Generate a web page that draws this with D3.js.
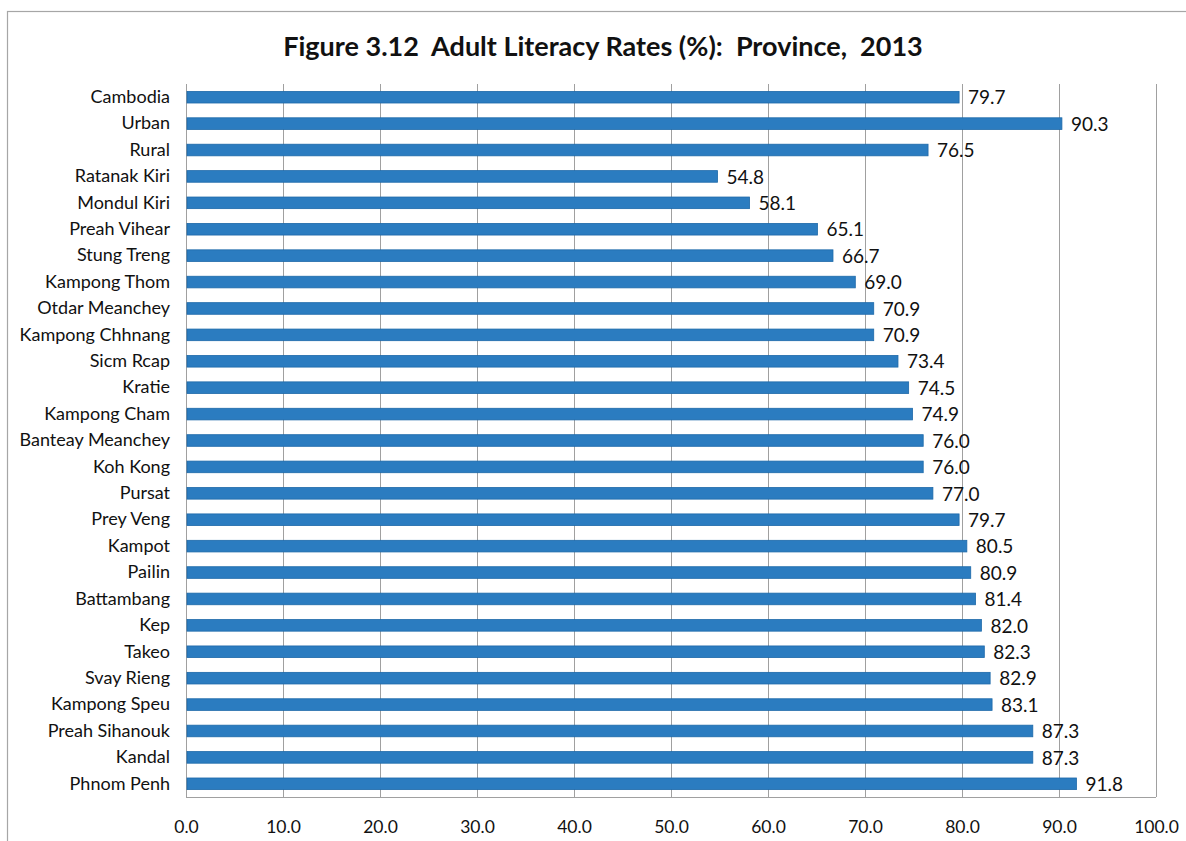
<!DOCTYPE html>
<html><head><meta charset="utf-8">
<script src="https://cdn.jsdelivr.net/npm/d3@7"></script>
<style>body{margin:0;background:#fff;} svg{display:block;}</style>
</head><body>
<svg id="chart" width="1186" height="841"></svg>
<script>
const categories = ["Cambodia","Urban","Rural","Ratanak Kiri","Mondul Kiri","Preah Vihear","Stung Treng","Kampong Thom","Otdar Meanchey","Kampong Chhnang","Sicm Rcap","Kratie","Kampong Cham","Banteay Meanchey","Koh Kong","Pursat","Prey Veng","Kampot","Pailin","Battambang","Kep","Takeo","Svay Rieng","Kampong Speu","Preah Sihanouk","Kandal","Phnom Penh"];
const values = [79.7,90.3,76.5,54.8,58.1,65.1,66.7,69.0,70.9,70.9,73.4,74.5,74.9,76.0,76.0,77.0,79.7,80.5,80.9,81.4,82.0,82.3,82.9,83.1,87.3,87.3,91.8];
const xTicks = [0,10,20,30,40,50,60,70,80,90,100];
const titleText = "Figure 3.12  Adult Literacy Rates (%):  Province,  2013";

const svg = d3.select("#chart");
const font = "Lato, 'Open Sans', sans-serif";
const mLeft = 186, mRight = 1156, mTop = 84, mBottom = 797;

svg.append("rect").attr("x",7.5).attr("y",11.5).attr("width",1200).attr("height",900)
  .attr("fill","none").attr("stroke","#a6a6a6").attr("stroke-width",1.2);

svg.append("text").attr("x",603).attr("y",56).attr("text-anchor","middle")
  .attr("font-family",font).attr("font-weight","bold").attr("font-size",27)
  .attr("fill","#111").style("white-space","pre").text(titleText);

const x = d3.scaleLinear().domain([0,100]).range([mLeft,mRight]);
const y = d3.scaleBand().domain(categories).range([mTop,mBottom]).paddingInner(0.56).paddingOuter(0.28);

// grid
svg.append("g").selectAll("line").data(xTicks).join("line")
  .attr("x1",d=>x(d)+0.5).attr("x2",d=>x(d)+0.5).attr("y1",mTop).attr("y2",mBottom)
  .attr("stroke","#a0a0a0").attr("stroke-width",1);
svg.append("line").attr("x1",mLeft).attr("x2",mRight).attr("y1",mBottom+0.5).attr("y2",mBottom+0.5)
  .attr("stroke","#a0a0a0");

// x axis
const xAxis = d3.axisBottom(x).tickValues(xTicks).tickFormat(d3.format(".1f")).tickSize(0).tickPadding(0);
const gx = svg.append("g").attr("transform",`translate(0,${mBottom})`).call(xAxis);
gx.select(".domain").remove();
gx.selectAll("text").attr("font-family",font).attr("font-size",17.5).attr("fill","#111").attr("dy",0).attr("y",36);

// y axis labels
const yAxis = d3.axisLeft(y).tickSize(0).tickPadding(0);
const gy = svg.append("g").attr("transform",`translate(${mLeft-16},0)`).call(yAxis);
gy.select(".domain").remove();
gy.selectAll("text").attr("font-family",font).attr("font-size",18).attr("fill","#111");

// bars
svg.append("g").selectAll("rect").data(values).join("rect")
  .attr("x",mLeft+1).attr("y",(d,i)=>y(categories[i]))
  .attr("width",d=>x(d)-mLeft-1).attr("height",y.bandwidth())
  .attr("fill","#2b7cc0").attr("stroke","#1d69a9").attr("stroke-width",0.8);

// value labels
svg.append("g").selectAll("text").data(values).join("text")
  .attr("x",d=>x(d)+9).attr("y",(d,i)=>y(categories[i])+y.bandwidth()/2)
  .attr("dy","0.38em").attr("font-family",font).attr("font-size",19).attr("fill","#111")
  .text(d=>d3.format(".1f")(d));
</script>
</body></html>
